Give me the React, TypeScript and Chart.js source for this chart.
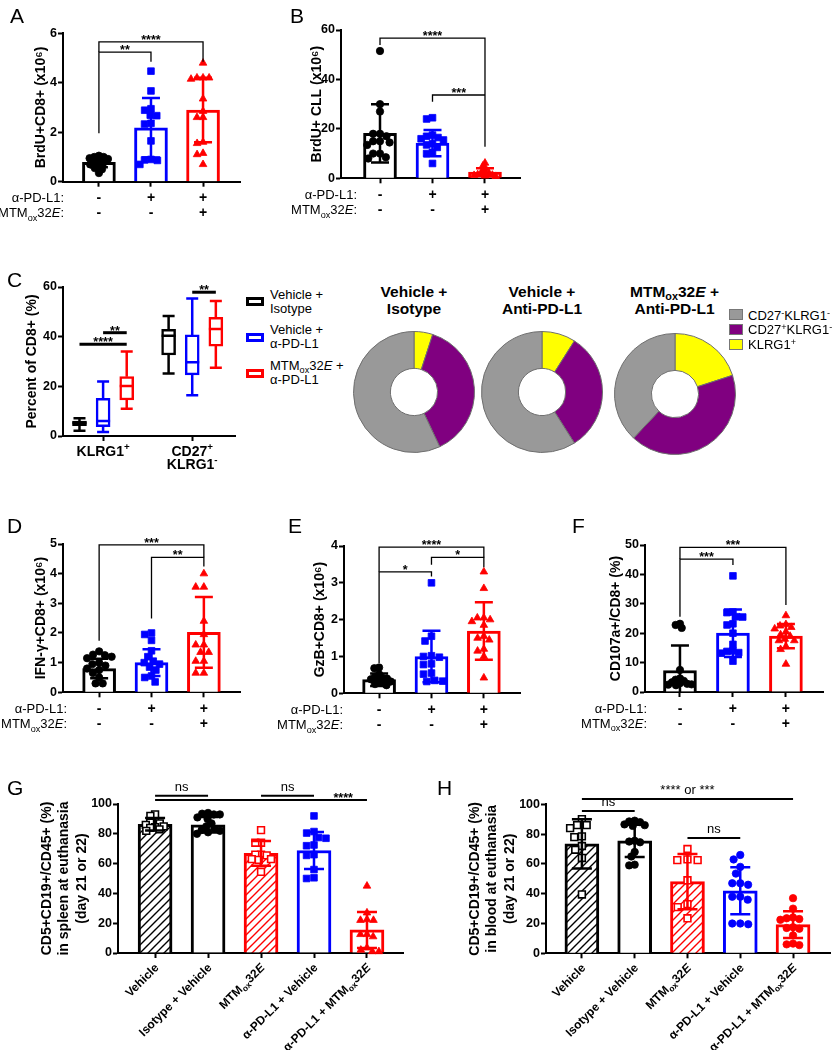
import React, { useEffect, useRef } from 'react';
import { Chart, registerables } from 'chart.js';

Chart.register(...registerables);

const FONT = "'Liberation Sans', Arial, Helvetica, sans-serif";
Chart.defaults.font.family = FONT;
Chart.defaults.color = '#000';

const BLACK = '#000000';
const BLUE = '#0000ff';
const RED = '#ff0000';

// ---------- shared categories / table rows (A, B, D, E, F) ----------
const groups3 = ['Vehicle + Isotype', 'Vehicle + α-PD-L1', 'MTM_{ox}32*E* + α-PD-L1'];
const tableRowLabels = ['α-PD-L1:', 'MTM_{ox}32*E*:'];
const tableAntiPDL1 = ['-', '+', '+'];
const tableMTM = ['-', '-', '+'];

// ---------- A ----------
const A_mean = [0.78, 2.18, 2.9];
const A_sd = [0.2, 1.2, 1.3];
const A_vehicle = [1.05, 1.0, 1.0, 0.95, 0.92, 0.85, 0.8, 0.75, 0.7, 0.65, 0.55, 0.5, 0.35];
const A_antiPDL1 = [4.47, 3.67, 2.95, 2.89, 2.69, 2.67, 2.36, 2.33, 1.65, 0.9, 0.88, 0.86, 0.7];
const A_combo = [4.8, 4.2, 4.2, 4.2, 4.15, 3.35, 2.85, 2.6, 2.6, 1.6, 1.55, 1.15, 1.1, 0.7];
const A_brackets = [
  { from: 0, to: 1, y: 5.24, leg1: 1.96, leg2: 4.85, label: '**' },
  { from: 0, to: 2, y: 5.65, leg1: 5.24, leg2: 4.85, label: '****' },
];

// ---------- B ----------
const B_mean = [18.2, 14.2, 2.5];
const B_sd = [11.8, 5.3, 1.6];
const B_vehicle = [51.5, 30, 27, 18, 18, 17, 15, 15, 14.5, 13.5, 10, 10, 8.5, 8];
const B_antiPDL1 = [24.5, 24, 17.5, 17, 16.5, 16, 15.5, 14, 13.5, 12.5, 10.5, 10, 6];
const B_combo = [6.2, 5, 4, 3.2, 2.5, 2, 1.8, 1.5, 1.3, 1.2, 1, 0.8];
const B_brackets = [
  { from: 0, to: 2, y: 56.7, leg1: 53.9, leg2: 12.8, label: '****' },
  { from: 1, to: 2, y: 33.7, leg1: 31, label: '***' },
];

// ---------- C (box plots) ----------
const C_groups = ['KLRG1^{+}', 'CD27^{+}|KLRG1^{-}'];
const C_series = ['Vehicle +|Isotype', 'Vehicle +|α-PD-L1', 'MTM_{ox}32*E* +|α-PD-L1'];
const C_colors = [BLACK, BLUE, RED];
const C_min = [[2.1, 25.2], [1.6, 16.4], [11.0, 27.5]];
const C_q1 = [[4.2, 32.6], [3.8, 24.6], [14.5, 36.2]];
const C_med = [[5.2, 40.4], [6.0, 29.7], [20.1, 43.1]];
const C_q3 = [[6.0, 43.0], [15.2, 40.7], [23.9, 47.8]];
const C_max = [[7.1, 48.3], [21.9, 55.4], [34.0, 54.4]];
const C_brackets = [
  { g: 0, s1: 0, s2: 2, y: 36.9, label: '****' },
  { g: 0, s1: 1, s2: 2, y: 41.6, label: '**' },
  { g: 1, s1: 1, s2: 2, y: 57.9, label: '**' },
];

// ---------- donuts ----------
const donutSegments = ['KLRG1^{+}', 'CD27^{+}KLRG1^{-}', 'CD27^{-}KLRG1^{-}'];
const donutColors = ['#ffff00', '#800080', '#999999'];
const donutVehIso = [5, 38, 57];
const donutVehPD = [9, 32, 59];
const donutMtmPD = [20, 42, 38];
const donutTitles = [['Vehicle +', 'Isotype'], ['Vehicle +', 'Anti-PD-L1'], ['MTM_{ox}32*E* +', 'Anti-PD-L1']];

// ---------- D ----------
const D_mean = [0.8, 1.0, 2.02];
const D_sd = [0.33, 0.45, 1.19];
const D_vehicle = [1.38, 1.27, 1.25, 1.2, 1.15, 1.0, 0.95, 0.9, 0.8, 0.75, 0.65, 0.5, 0.3, 0.3];
const D_antiPDL1 = [2.0, 1.95, 1.75, 1.4, 1.2, 1.05, 1.0, 0.95, 0.85, 0.75, 0.55, 0.5, 0.35];
const D_combo = [4.0, 3.55, 3.55, 2.4, 1.95, 1.6, 1.6, 1.35, 1.35, 1.05, 1.05, 0.65, 0.65];
const D_brackets = [
  { from: 0, to: 2, y: 4.97, leg1: 1.74, leg2: 4.55, label: '***' },
  { from: 1, to: 2, y: 4.55, leg1: 2.49, leg2: 4.24, label: '**' },
];

// ---------- E ----------
const E_mean = [0.37, 1.0, 1.69];
const E_sd = [0.17, 0.7, 0.78];
const E_vehicle = [0.7, 0.68, 0.52, 0.45, 0.42, 0.4, 0.38, 0.35, 0.32, 0.28, 0.25, 0.22];
const E_antiPDL1 = [3.0, 1.55, 1.42, 1.02, 1.0, 0.98, 0.8, 0.78, 0.55, 0.52, 0.35, 0.33, 0.32];
const E_combo = [3.3, 2.85, 2.05, 2.05, 2.0, 1.95, 1.85, 1.55, 1.5, 1.45, 1.2, 1.15, 1.0, 0.42];
const E_brackets = [
  { from: 0, to: 2, y: 3.97, leg1: 3.3, leg2: 3.69, label: '****' },
  { from: 1, to: 2, y: 3.69, leg1: 3.49, leg2: 3.42, label: '*' },
  { from: 0, to: 1, y: 3.3, leg1: 0.82, leg2: 3.17, label: '*' },
];

// ---------- F ----------
const F_mean = [7.3, 20, 19.0];
const F_sd = [8.5, 8.1, 4.1];
const F_vehicle = [23.2, 22.8, 21.8, 7.5, 4.6, 4.2, 3.8, 3.3, 3.0, 2.8, 2.6, 2.5, 2.3];
const F_antiPDL1 = [39.5, 27.2, 27, 25.6, 25.5, 23.2, 22.8, 20, 16.2, 14, 13.8, 13.4, 13.2, 10.5];
const F_combo = [26, 23, 22.5, 22, 21.5, 20.5, 19.5, 19, 18, 17.5, 17.5, 15.5, 14.5, 9.5];
const F_brackets = [
  { from: 0, to: 2, y: 49.2, leg1: 45.2, leg2: 29.6, label: '***' },
  { from: 0, to: 1, y: 45.2, leg1: 25.6, leg2: 43.2, label: '***' },
];

// ---------- G / H ----------
const groups5 = ['Vehicle', 'Isotype + Vehicle', 'MTM_{ox}32*E*', 'α-PD-L1 + Vehicle', 'α-PD-L1 + MTM_{ox}32*E*'];
const G_mean = [86.4, 86, 66.9, 68.8, 15.5];
const G_sd = [4.2, 5.2, 8.3, 12.4, 12.1];
const G_vehicle = [93, 92, 88, 87.5, 87, 86, 85, 84.5, 84, 83, 82];
const G_isotype = [94, 93.5, 93, 93, 91, 90, 87, 85, 83.5, 82.5, 82, 81, 80];
const G_mtm = [82.5, 74, 74, 66, 66, 65.5, 63, 63, 62.5, 54.5];
const G_antiPDL1 = [92, 81.5, 80.5, 77.5, 77, 72.5, 72, 66, 65.5, 56, 50.5, 50];
const G_combo = [45, 27, 22.5, 22, 22, 12.5, 12.5, 11, 3.5, 2, 1, 1];
const G_brackets = [
  { from: 0, to: 1, y: 105.5, label: 'ns' },
  { from: 2, to: 3, y: 105.5, label: 'ns' },
  { from: 0, to: 4, y: 102.7, label: '****', labelAt: 3.55 },
];

const H_mean = [73.4, 75.5, 48.1, 42, 19.2];
const H_sd = [16.5, 10.8, 18.5, 15.8, 9.0];
const H_vehicle = [90, 86, 86, 84, 78.5, 78, 72, 69.5, 64, 39.5];
const H_isotype = [89, 88.5, 88, 86.5, 86, 85.5, 75.5, 75, 74.5, 68, 65, 59.5, 59];
const H_mtm = [70, 63, 62.5, 62.5, 49, 33, 31, 23.5];
const H_antiPDL1 = [66, 63, 58, 53.5, 47, 47, 46, 38, 38, 36, 20, 20, 19.5];
const H_combo = [37, 30, 24, 23.5, 23, 22.5, 17.5, 17, 16.5, 12, 6.5, 6, 5.5];
const H_brackets = [
  { from: 0, to: 4, y: 103.5, label: '**** or ***' },
  { from: 0, to: 1, y: 95.5, label: 'ns' },
  { from: 2, to: 3, y: 77.4, label: 'ns' },
];

// ---------- rich text helpers ----------
type Part = { t: string; sub?: boolean; sup?: boolean; it?: boolean };
function parseRich(s: string): Part[] {
  const out: Part[] = [];
  const re = /\^\{([^}]*)\}|_\{([^}]*)\}|\*([^*]+)\*|([^*^_]+)/g;
  let m: RegExpExecArray | null;
  while ((m = re.exec(s))) {
    if (m[1] !== undefined) out.push({ t: m[1], sup: true });
    else if (m[2] !== undefined) out.push({ t: m[2], sub: true });
    else if (m[3] !== undefined) out.push({ t: m[3], it: true });
    else out.push({ t: m[4] });
  }
  return out;
}

function drawRich(ctx: CanvasRenderingContext2D, s: string, x: number, y: number, size: number, weight: string, align: string) {
  const parts = parseRich(s);
  const fonts = parts.map((p) => `${p.it ? 'italic ' : ''}${weight} ${p.sub || p.sup ? size * 0.7 : size}px ${FONT}`);
  let total = 0;
  const ws = parts.map((p, i) => {
    ctx.font = fonts[i];
    const w = ctx.measureText(p.t).width;
    total += w;
    return w;
  });
  let cx = align === 'right' ? x - total : align === 'center' ? x - total / 2 : x;
  ctx.textAlign = 'left';
  parts.forEach((p, i) => {
    ctx.font = fonts[i];
    ctx.fillText(p.t, cx, y + (p.sub ? size * 0.3 : p.sup ? -size * 0.4 : 0));
    cx += ws[i];
  });
}

function Rich({ s }: { s: string }) {
  return (
    <>
      {parseRich(s).map((p, i) =>
        p.sub ? (
          <span key={i} style={{ fontSize: '70%', position: 'relative', top: '0.3em' }}>{p.t}</span>
        ) : p.sup ? (
          <span key={i} style={{ fontSize: '70%', position: 'relative', top: '-0.45em' }}>{p.t}</span>
        ) : p.it ? (
          <i key={i}>{p.t}</i>
        ) : (
          <span key={i}>{p.t}</span>
        )
      )}
    </>
  );
}

function Txt({ x, y, size, bold, align = 'left', s }: { x: number; y: number; size: number; bold?: boolean; align?: string; s: string }) {
  const tx = align === 'center' ? 'translateX(-50%)' : align === 'right' ? 'translateX(-100%)' : undefined;
  return (
    <div
      style={{
        position: 'absolute', left: x, top: y - 0.8465 * size, fontSize: size, lineHeight: `${size}px`,
        fontWeight: bold ? 'bold' : 'normal', fontFamily: FONT, whiteSpace: 'nowrap', transform: tx, color: '#000',
      }}
    >
      <Rich s={s} />
    </div>
  );
}

// ---------- chart helpers ----------
type Rect = { l: number; t: number; w: number; h: number };
type Bracket = { from: number; to: number; y: number; leg1?: number; leg2?: number; label: string; labelAt?: number };
type PStyle = { shape: string; r: number; open?: boolean };

const CIRC: PStyle = { shape: 'circle', r: 3.7 };
const SQ: PStyle = { shape: 'rect', r: 4.7 };
const TRI: PStyle = { shape: 'triangle', r: 4.4 };
const OSQ: PStyle = { shape: 'rect', r: 4.8, open: true };

function hatch(ctx: CanvasRenderingContext2D, color: string) {
  const c = document.createElement('canvas');
  c.width = 8;
  c.height = 8;
  const g = c.getContext('2d')!;
  g.fillStyle = '#fff';
  g.fillRect(0, 0, 8, 8);
  g.strokeStyle = color;
  g.lineWidth = 1.4;
  g.beginPath();
  g.moveTo(0, 8); g.lineTo(8, 0);
  g.moveTo(-2, 2); g.lineTo(2, -2);
  g.moveTo(6, 10); g.lineTo(10, 6);
  g.stroke();
  return ctx.createPattern(c, 'repeat');
}

function gridOpts() {
  return { display: true, drawOnChartArea: false, drawTicks: true, tickLength: 5, tickWidth: 2, tickColor: '#000', offset: false };
}
const borderOpts = { display: true, width: 2, color: '#000' };

function geom(r: Rect, axisX: number, top: number, bottom: number, right: number, titleX: number, lh: number) {
  const padLeft = titleX - r.l - 4 - lh / 2;
  return {
    padding: { left: padLeft, top: top - r.t, right: r.l + r.w - right, bottom: 0 },
    yWidth: axisX - r.l - padLeft,
    xHeight: r.t + r.h - bottom,
  };
}

function drawBrackets(ctx: CanvasRenderingContext2D, xs: any, ys: any, list: Bracket[], lw: number) {
  ctx.save();
  ctx.strokeStyle = '#000';
  ctx.fillStyle = '#000';
  ctx.lineWidth = lw;
  for (const b of list) {
    const x1 = xs.getPixelForValue(b.from);
    const x2 = xs.getPixelForValue(b.to);
    const yy = ys.getPixelForValue(b.y);
    ctx.beginPath();
    if (b.leg1 !== undefined) {
      ctx.moveTo(x1, ys.getPixelForValue(b.leg1));
      ctx.lineTo(x1, yy);
    } else ctx.moveTo(x1, yy);
    ctx.lineTo(x2, yy);
    if (b.leg2 !== undefined) ctx.lineTo(x2, ys.getPixelForValue(b.leg2));
    ctx.stroke();
    const lx = xs.getPixelForValue(b.labelAt !== undefined ? b.labelAt : (b.from + b.to) / 2);
    const stars = /^\*+$/.test(b.label);
    ctx.font = stars ? `bold 12.5px ${FONT}` : `13px ${FONT}`;
    ctx.textAlign = 'center';
    ctx.textBaseline = 'alphabetic';
    ctx.fillText(b.label, lx, stars ? yy + 2 : yy - 5);
  }
  ctx.restore();
}

interface BarSpec {
  rect: Rect; axisX: number; top: number; bottom: number; right: number;
  titleX: number; title: string | string[]; titleLH?: number;
  xMin: number; xMax: number; yMax: number; yStep: number;
  means: number[]; sds: number[]; points: number[][];
  colors: string[]; styles: PStyle[]; hatched?: boolean[];
  brackets: Bracket[]; bracketWidth: number;
  tableRight?: number; rotLabels?: string[];
  barWidth: number; capWidth: number;
}

// beeswarm layout of the points: nearest free horizontal slot, shrinking the
// collision distance until the swarm fits inside the bar
function swarmOffsets(py: number[], d: number): number[] {
  const placed: { x: number; y: number }[] = [];
  const offs: number[] = new Array(py.length).fill(0);
  const order = py.map((_, i) => i).sort((a, b) => py[a] - py[b]);
  for (const i of order) {
    const blocks = placed
      .filter((p) => Math.abs(p.y - py[i]) < d)
      .map((p) => {
        const w = Math.sqrt(d * d - (p.y - py[i]) * (p.y - py[i]));
        return [p.x - w, p.x + w];
      });
    const cands = [0, ...blocks.flat()].filter((c) => blocks.every((b) => c <= b[0] + 1e-6 || c >= b[1] - 1e-6));
    cands.sort((a, b) => Math.abs(a) - Math.abs(b));
    placed.push({ x: cands[0], y: py[i] });
    offs[i] = cands[0];
  }
  return offs;
}

function swarm(chart: any, points: number[][], styles: PStyle[], barWidth: number) {
  const xs = chart.scales.x;
  const ys = chart.scales.y;
  const unit = xs.getPixelForValue(1) - xs.getPixelForValue(0);
  points.forEach((vals, g) => {
    const limit = barWidth / 2 - styles[g].r;
    const py = vals.map((v) => ys.getPixelForValue(v));
    let d = styles[g].r * 2 + 0.6;
    let offs = swarmOffsets(py, d);
    let maxOff = Math.max(...offs.map((o) => Math.abs(o)));
    while (maxOff > limit && d > 2) {
      d *= 0.93;
      offs = swarmOffsets(py, d);
      maxOff = Math.max(...offs.map((o) => Math.abs(o)));
    }
    const k = maxOff > limit ? limit / maxOff : 1;
    chart.data.datasets[g].data = vals.map((v, i) => ({ x: g + (offs[i] * k) / unit, y: v }));
  });
  chart.update('none');
}

function makeBarChart(canvas: HTMLCanvasElement, s: BarSpec): Chart {
  const tlh = s.titleLH ?? 1.2;
  const tsize = 14;
  const gm = geom(s.rect, s.axisX, s.top, s.bottom, s.right, s.titleX, tsize * tlh);
  const ctx2 = canvas.getContext('2d')!;
  const bg = s.means.map((_, i) => (s.hatched && s.hatched[i] ? hatch(ctx2, s.colors[i]) : '#ffffff'));
  const datasets: any[] = s.points.map((pts, i) => {
    const st = s.styles[i];
    return {
      type: 'scatter',
      data: pts.map((v) => ({ x: i, y: v })),
      pointStyle: st.shape,
      pointRadius: st.r,
      pointHoverRadius: st.r,
      backgroundColor: st.open ? '#ffffff' : s.colors[i],
      borderColor: s.colors[i],
      borderWidth: st.open ? 1.6 : 0.8,
      order: 1,
      clip: false,
    };
  });
  datasets.push({
    type: 'bar',
    data: s.means.map((m, i) => ({ x: i, y: m })),
    backgroundColor: bg,
    borderColor: s.colors,
    borderWidth: 3,
    barThickness: s.barWidth,
    order: 10,
  });
  const annot = {
    id: 'annot',
    afterDatasetsDraw(chart: any) {
      const { ctx, scales } = chart;
      const xs = scales.x;
      const ys = scales.y;
      ctx.save();
      ctx.lineWidth = 2.5;
      s.means.forEach((m, i) => {
        const px = xs.getPixelForValue(i);
        const top = ys.getPixelForValue(m + s.sds[i]);
        const low = m - s.sds[i];
        const bot = ys.getPixelForValue(Math.max(low, 0));
        const cw = s.capWidth / 2;
        ctx.strokeStyle = s.colors[i];
        ctx.beginPath();
        ctx.moveTo(px, top); ctx.lineTo(px, bot);
        ctx.moveTo(px - cw, top); ctx.lineTo(px + cw, top);
        if (low > 0) { ctx.moveTo(px - cw, bot); ctx.lineTo(px + cw, bot); }
        ctx.stroke();
      });
      ctx.restore();
    },
    afterDraw(chart: any) {
      const { ctx, scales, chartArea } = chart;
      const xs = scales.x;
      const ys = scales.y;
      drawBrackets(ctx, xs, ys, s.brackets, s.bracketWidth);
      ctx.save();
      ctx.fillStyle = '#000';
      ctx.textBaseline = 'alphabetic';
      if (s.tableRight !== undefined) {
        const rows = [tableAntiPDL1, tableMTM];
        rows.forEach((row, ri) => {
          const yy = chartArea.bottom + 20.5 + ri * 15;
          drawRich(ctx, tableRowLabels[ri], s.tableRight! - s.rect.l, yy, 13, 'normal', 'right');
          row.forEach((sign, i) => {
            ctx.font = `bold 14px ${FONT}`;
            ctx.textAlign = 'center';
            ctx.fillText(sign, xs.getPixelForValue(i), yy);
          });
        });
      }
      if (s.rotLabels) {
        s.rotLabels.forEach((lab, i) => {
          ctx.save();
          ctx.translate(xs.getPixelForValue(i) + 2, chartArea.bottom + 13);
          ctx.rotate(-Math.PI / 4);
          ctx.textBaseline = 'middle';
          drawRich(ctx, lab, 0, 0, 12, 'bold', 'right');
          ctx.restore();
        });
      }
      ctx.restore();
    },
  };
  const chart = new Chart(canvas, {
    type: 'bar',
    data: { datasets },
    options: {
      responsive: false,
      animation: false,
      events: [],
      layout: { padding: gm.padding },
      plugins: { legend: { display: false }, tooltip: { enabled: false } },
      scales: {
        x: {
          type: 'linear', min: s.xMin, max: s.xMax, offset: false,
          grid: gridOpts(), border: borderOpts,
          ticks: { callback: () => '', font: { size: 2 } },
          afterBuildTicks: (sc: any) => { sc.ticks = s.means.map((_, i) => ({ value: i })); },
          afterFit: (sc: any) => { sc.height = gm.xHeight; },
        },
        y: {
          type: 'linear', min: 0, max: s.yMax,
          grid: gridOpts(), border: borderOpts,
          ticks: { stepSize: s.yStep, font: { size: 12.5, weight: 'bold' }, color: '#000', padding: 1 },
          afterFit: (sc: any) => { sc.width = gm.yWidth; },
          title: { display: true, text: s.title, color: '#000', font: { size: tsize, weight: 'bold', lineHeight: tlh }, padding: { top: 4, bottom: 4 } },
        },
      } as any,
    },
    plugins: [annot],
  } as any);
  swarm(chart, s.points, s.styles, s.barWidth);
  return chart;
}

// ---------- box plot (C) ----------
const C_rect: Rect = { l: 0, t: 262, w: 242, h: 215 };
const BOX_SPREAD = 0.265;

function makeBoxChart(canvas: HTMLCanvasElement): Chart {
  const gm = geom(C_rect, 63, 287, 436, 235, 32, 14 * 1.2);
  const datasets = C_series.map((_, si) => ({
    type: 'bar',
    grouped: false,
    barThickness: 14,
    borderWidth: 2.5,
    borderColor: C_colors[si],
    backgroundColor: '#ffffff',
    borderSkipped: false,
    data: C_groups.map((__, g) => ({ x: g + (si - 1) * BOX_SPREAD, y: [C_q1[si][g], C_q3[si][g]] })),
  }));
  const annot = {
    id: 'boxannot',
    afterDatasetsDraw(chart: any) {
      const { ctx, scales } = chart;
      const xs = scales.x;
      const ys = scales.y;
      ctx.save();
      ctx.lineWidth = 2.5;
      C_series.forEach((_, si) => {
        C_groups.forEach((__, g) => {
          const px = xs.getPixelForValue(g + (si - 1) * BOX_SPREAD);
          const yv = (v: number) => ys.getPixelForValue(v);
          ctx.strokeStyle = C_colors[si];
          ctx.beginPath();
          ctx.moveTo(px, yv(C_q3[si][g])); ctx.lineTo(px, yv(C_max[si][g]));
          ctx.moveTo(px - 6, yv(C_max[si][g])); ctx.lineTo(px + 6, yv(C_max[si][g]));
          ctx.moveTo(px, yv(C_q1[si][g])); ctx.lineTo(px, yv(C_min[si][g]));
          ctx.moveTo(px - 6, yv(C_min[si][g])); ctx.lineTo(px + 6, yv(C_min[si][g]));
          ctx.moveTo(px - 7, yv(C_med[si][g])); ctx.lineTo(px + 7, yv(C_med[si][g]));
          ctx.stroke();
        });
      });
      ctx.restore();
    },
    afterDraw(chart: any) {
      const { ctx, scales, chartArea } = chart;
      const xs = scales.x;
      const ys = scales.y;
      const list: Bracket[] = C_brackets.map((b) => ({
        from: b.g + (b.s1 - 1) * BOX_SPREAD,
        to: b.g + (b.s2 - 1) * BOX_SPREAD,
        y: b.y,
        label: b.label,
      }));
      drawBrackets(ctx, xs, ys, list, 3);
      ctx.save();
      ctx.fillStyle = '#000';
      ctx.textBaseline = 'alphabetic';
      C_groups.forEach((lab, g) => {
        lab.split('|').forEach((ln, k) => {
          drawRich(ctx, ln, xs.getPixelForValue(g), chartArea.bottom + 20 + 13 * k, 14, 'bold', 'center');
        });
      });
      ctx.restore();
    },
  };
  return new Chart(canvas, {
    type: 'bar',
    data: { datasets },
    options: {
      responsive: false,
      animation: false,
      events: [],
      layout: { padding: gm.padding },
      plugins: { legend: { display: false }, tooltip: { enabled: false } },
      scales: {
        x: {
          type: 'linear', min: -0.45, max: 1.48, offset: false,
          grid: gridOpts(), border: borderOpts,
          ticks: { callback: () => '', font: { size: 2 } },
          afterBuildTicks: (sc: any) => { sc.ticks = C_groups.map((_, i) => ({ value: i })); },
          afterFit: (sc: any) => { sc.height = gm.xHeight; },
        },
        y: {
          type: 'linear', min: 0, max: 60,
          grid: gridOpts(), border: borderOpts,
          ticks: { stepSize: 20, font: { size: 12.5, weight: 'bold' }, color: '#000', padding: 1 },
          afterFit: (sc: any) => { sc.width = gm.yWidth; },
          title: { display: true, text: 'Percent of CD8+ (%)', color: '#000', font: { size: 14, weight: 'bold', lineHeight: 1.2 }, padding: { top: 4, bottom: 4 } },
        },
      } as any,
    },
    plugins: [annot],
  } as any);
}

function makeDonut(canvas: HTMLCanvasElement, values: number[]): Chart {
  return new Chart(canvas, {
    type: 'doughnut',
    data: {
      labels: donutSegments,
      datasets: [{ data: values, backgroundColor: donutColors, borderColor: '#6e6e6e', borderWidth: 1, hoverOffset: 0 }],
    },
    options: {
      responsive: false,
      animation: false,
      events: [],
      cutout: '39%',
      layout: { padding: 1 },
      plugins: { legend: { display: false }, tooltip: { enabled: false } },
    },
  } as any);
}

function ChartCanvas({ rect, make }: { rect: Rect; make: (c: HTMLCanvasElement) => Chart }) {
  const ref = useRef<HTMLCanvasElement>(null);
  useEffect(() => {
    const ch = make(ref.current!);
    return () => ch.destroy();
  }, []);
  return (
    <canvas
      ref={ref}
      width={rect.w}
      height={rect.h}
      style={{ position: 'absolute', left: rect.l, top: rect.t, width: rect.w, height: rect.h }}
    />
  );
}

// ---------- panel specs ----------
const C3 = [BLACK, BLUE, RED];
const S3 = [CIRC, SQ, TRI];

const specA: BarSpec = {
  rect: { l: 0, t: 20, w: 262, h: 210 }, axisX: 63, top: 33.3, bottom: 181.7, right: 240, titleX: 41,
  title: 'BrdU+CD8+ (x10⁶)', xMin: -0.69, xMax: 2.71, yMax: 6, yStep: 2,
  means: A_mean, sds: A_sd, points: [A_vehicle, A_antiPDL1, A_combo], colors: C3, styles: S3,
  brackets: A_brackets, bracketWidth: 1.3, tableRight: 64, barWidth: 33, capWidth: 18,
};
const specB: BarSpec = {
  rect: { l: 270, t: 20, w: 262, h: 210 }, axisX: 341, top: 30, bottom: 178.3, right: 520, titleX: 317,
  title: 'BrdU+ CLL (x10⁶)', xMin: -0.743, xMax: 2.667, yMax: 60, yStep: 20,
  means: B_mean, sds: B_sd, points: [B_vehicle, B_antiPDL1, B_combo], colors: C3, styles: S3,
  brackets: B_brackets, bracketWidth: 1.3, tableRight: 357, barWidth: 33, capWidth: 18,
};
const specD: BarSpec = {
  rect: { l: 0, t: 500, w: 262, h: 235 }, axisX: 63, top: 544, bottom: 692.3, right: 240, titleX: 41,
  title: 'IFN-γ+CD8+ (x10⁶)', xMin: -0.69, xMax: 2.69, yMax: 5, yStep: 1,
  means: D_mean, sds: D_sd, points: [D_vehicle, D_antiPDL1, D_combo], colors: C3, styles: S3,
  brackets: D_brackets, bracketWidth: 1.3, tableRight: 67, barWidth: 33, capWidth: 18,
};
const specE: BarSpec = {
  rect: { l: 270, t: 500, w: 262, h: 235 }, axisX: 344, top: 546, bottom: 693.3, right: 520, titleX: 320,
  title: 'GzB+CD8+ (x10⁶)', xMin: -0.67, xMax: 2.69, yMax: 4, yStep: 1,
  means: E_mean, sds: E_sd, points: [E_vehicle, E_antiPDL1, E_combo], colors: C3, styles: S3,
  brackets: E_brackets, bracketWidth: 1.3, tableRight: 343, barWidth: 33, capWidth: 18,
};
const specF: BarSpec = {
  rect: { l: 540, t: 500, w: 298, h: 235 }, axisX: 645, top: 545, bottom: 692, right: 823, titleX: 616,
  title: 'CD107a+/CD8+ (%)', xMin: -0.66, xMax: 2.7, yMax: 50, yStep: 10,
  means: F_mean, sds: F_sd, points: [F_vehicle, F_antiPDL1, F_combo], colors: C3, styles: S3,
  brackets: F_brackets, bracketWidth: 1.3, tableRight: 647, barWidth: 33, capWidth: 18,
};
const C5 = [BLACK, BLACK, RED, BLUE, RED];
const specG: BarSpec = {
  rect: { l: 0, t: 765, w: 420, h: 285 }, axisX: 118, top: 804, bottom: 953, right: 403, titleX: 47,
  title: ['CD5+CD19+/CD45+ (%)', 'in spleen at euthanasia', '(day 21 or 22)'], titleLH: 1.25,
  xMin: -0.7, xMax: 4.68, yMax: 100, yStep: 20,
  means: G_mean, sds: G_sd, points: [G_vehicle, G_isotype, G_mtm, G_antiPDL1, G_combo], colors: C5,
  styles: [OSQ, CIRC, OSQ, SQ, TRI], hatched: [true, false, true, false, false],
  brackets: G_brackets, bracketWidth: 2, rotLabels: groups5, barWidth: 34, capWidth: 20,
};
const specH: BarSpec = {
  rect: { l: 420, t: 765, w: 418, h: 285 }, axisX: 546, top: 804.3, bottom: 953.3, right: 830, titleX: 475,
  title: ['CD5+CD19+/CD45+ (%)', 'in blood at euthanasia', '(day 21 or 22)'], titleLH: 1.25,
  xMin: -0.68, xMax: 4.7, yMax: 100, yStep: 20,
  means: H_mean, sds: H_sd, points: [H_vehicle, H_isotype, H_mtm, H_antiPDL1, H_combo], colors: C5,
  styles: [OSQ, CIRC, OSQ, CIRC, CIRC], hatched: [true, false, true, false, false],
  brackets: H_brackets, bracketWidth: 2, rotLabels: groups5, barWidth: 34, capWidth: 20,
};

const donutCenters = [
  { x: 414, y: 392 },
  { x: 542, y: 392 },
  { x: 674.5, y: 394 },
];
const donutValues = [donutVehIso, donutVehPD, donutMtmPD];

export default function App() {
  const letters = [
    { s: 'A', x: 10, y: 23 }, { s: 'B', x: 290, y: 23 }, { s: 'C', x: 7, y: 287 },
    { s: 'D', x: 7, y: 533 }, { s: 'E', x: 288, y: 533 }, { s: 'F', x: 572, y: 533 },
    { s: 'G', x: 7, y: 795 }, { s: 'H', x: 437, y: 795 },
  ];
  const cLegendTops = [297, 332.5, 369];
  const cLegendBase = [[299, 313], [334, 348], [370, 384]];
  const dLegendOrder = [2, 1, 0];
  const dLegendTops = [308.5, 323.5, 338.5];
  const dLegendBase = [320, 334.5, 349];
  return (
    <div style={{ position: 'relative', width: 838, height: 1050, background: '#fff', overflow: 'hidden', fontFamily: FONT }}>
      <style>{'body{margin:0;background:#fff}'}</style>
      <ChartCanvas rect={specA.rect} make={(c) => makeBarChart(c, specA)} />
      <ChartCanvas rect={specB.rect} make={(c) => makeBarChart(c, specB)} />
      <ChartCanvas rect={C_rect} make={(c) => makeBoxChart(c)} />
      <ChartCanvas rect={specD.rect} make={(c) => makeBarChart(c, specD)} />
      <ChartCanvas rect={specE.rect} make={(c) => makeBarChart(c, specE)} />
      <ChartCanvas rect={specF.rect} make={(c) => makeBarChart(c, specF)} />
      <ChartCanvas rect={specG.rect} make={(c) => makeBarChart(c, specG)} />
      <ChartCanvas rect={specH.rect} make={(c) => makeBarChart(c, specH)} />
      {donutCenters.map((dc, i) => (
        <ChartCanvas key={'d' + i} rect={{ l: dc.x - 62, t: dc.y - 62, w: 124, h: 124 }} make={(c) => makeDonut(c, donutValues[i])} />
      ))}
      {donutTitles.map((lines, i) =>
        lines.map((ln, k) => <Txt key={`dt${i}${k}`} x={donutCenters[i].x} y={297 + k * 17} size={15.5} bold align="center" s={ln} />)
      )}
      {dLegendOrder.map((si, k) => (
        <React.Fragment key={'dl' + k}>
          <div style={{ position: 'absolute', left: 729, top: dLegendTops[k], width: 14, height: 11, boxSizing: 'border-box', background: donutColors[si], border: '1px solid #777' }} />
          <Txt x={748} y={dLegendBase[k]} size={13} s={donutSegments[si]} />
        </React.Fragment>
      ))}
      {C_series.map((lab, si) => (
        <React.Fragment key={'cl' + si}>
          <div style={{ position: 'absolute', left: 245.5, top: cLegendTops[si], width: 18, height: 9, boxSizing: 'border-box', background: '#fff', border: `3px solid ${C_colors[si]}` }} />
          {lab.split('|').map((ln, k) => (
            <Txt key={k} x={270} y={cLegendBase[si][k]} size={13} s={ln} />
          ))}
        </React.Fragment>
      ))}
      {letters.map((l) => (
        <Txt key={l.s} x={l.x} y={l.y} size={21} s={l.s} />
      ))}
    </div>
  );
}
